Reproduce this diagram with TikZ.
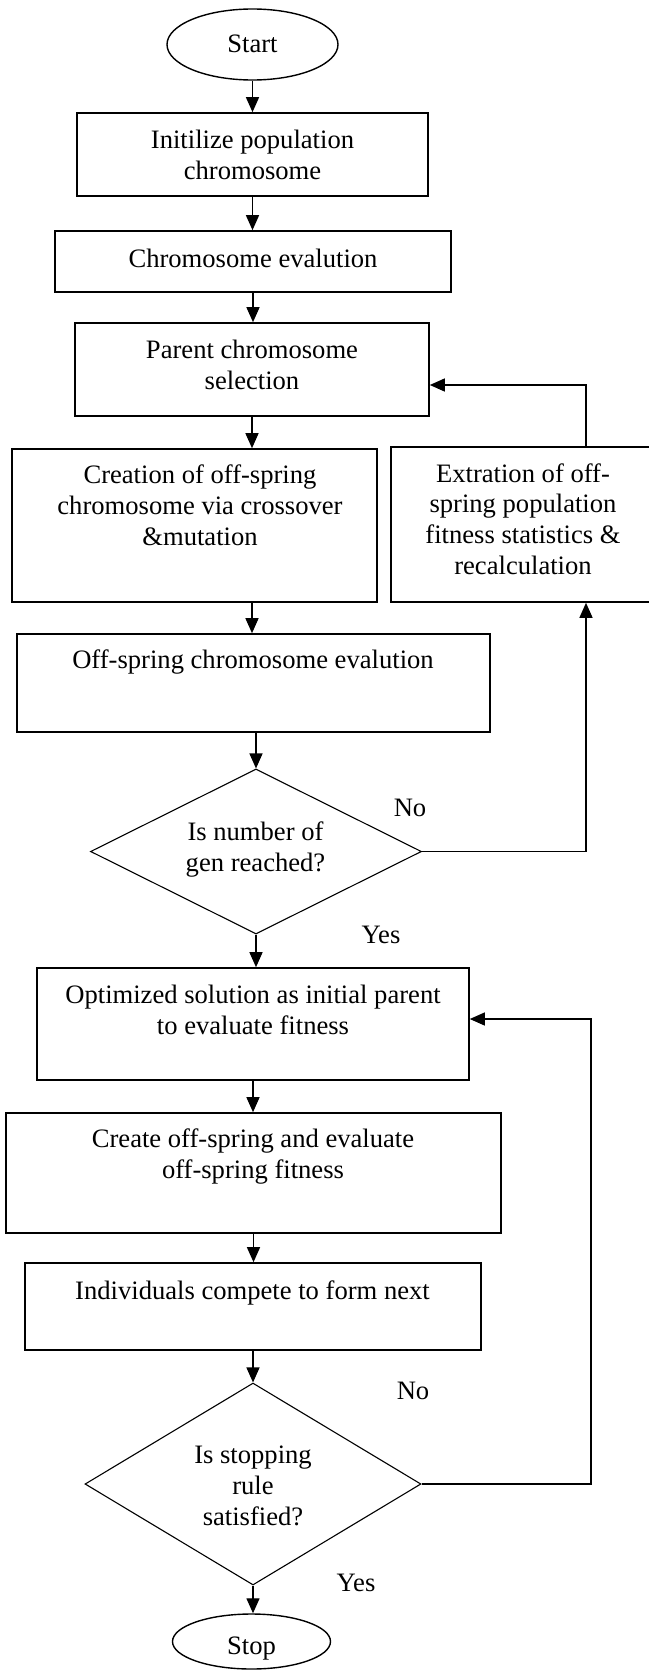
\documentclass[tikz,border=0pt]{standalone}
\usepackage{fontspec}
\setmainfont{Liberation Serif}
\usetikzlibrary{arrows.meta,shapes.geometric}
\begin{document}
\begin{tikzpicture}[x=1pt,y=-1pt,
  boxnode/.style={draw, line width=1.6pt, rectangle, inner sep=0pt},
  ovalnode/.style={draw, line width=1.4pt, ellipse, inner sep=0pt, font=\fontsize{26.6}{30.7}\selectfont},
  decnode/.style={draw, line width=1.1pt, diamond, inner sep=0pt},
  txt/.style={inner sep=0pt, align=center, font=\fontsize{26.6}{30.7}\selectfont},
  flow/.style={line width=1.3pt, -{Triangle[length=15pt,width=13pt]}},
  plain/.style={line width=1.3pt}
]
\useasboundingbox (0,0) rectangle (648,1670);

% terminals
\node[ovalnode, minimum width=171pt, minimum height=71pt, text height=15.6pt, text depth=0pt] (start) at (252.5,44.5) {Start};
\node[ovalnode, minimum width=158pt, minimum height=55pt, text height=26pt, text depth=0pt] (stop) at (251.5,1641.5) {Stop};

% boxes
\node[boxnode, minimum width=351pt, minimum height=83pt] (b1) at (252.5,154.5) {};
\node[boxnode, minimum width=396pt, minimum height=61pt] (b2) at (253,261.5) {};
\node[boxnode, minimum width=354pt, minimum height=93pt] (b3) at (252,369.5) {};
\node[boxnode, minimum width=365pt, minimum height=153pt] (b4) at (194.5,525.5) {};
\node[boxnode, minimum width=265pt, minimum height=155pt] (b5) at (523.5,524.5) {};
\node[boxnode, minimum width=473pt, minimum height=98pt] (b6) at (253.5,683) {};
\node[boxnode, minimum width=432pt, minimum height=112pt] (b7) at (253,1024) {};
\node[boxnode, minimum width=495pt, minimum height=120pt] (b8) at (253.5,1173) {};
\node[boxnode, minimum width=456pt, minimum height=87pt] (b9) at (253,1306.5) {};

% decisions
\node[decnode, minimum width=331pt, minimum height=165pt] (d1) at (256,851.5) {};
\node[decnode, minimum width=336pt, minimum height=202pt] (d2) at (253,1484) {};

% texts
\node[txt, anchor=north] (t1) at (252.5,126.65) {\strut Initilize population\\chromosome};
\node[txt, anchor=base] (t2) at (253,267) {Chromosome evalution};
\node[txt, anchor=north] (t3) at (252,336.65) {\strut Parent chromosome\\selection};
\node[txt, anchor=north] (t4) at (200,461.95) {\strut Creation of off-spring\\chromosome via crossover\\\&mutation};
\node[txt, anchor=north] (t5) at (523,460.35) {\strut Extration of off-\\spring population\\fitness statistics \&\\recalculation};
\node[txt, anchor=base] (t6) at (253,668) {Off-spring chromosome evalution};
\node[txt, anchor=north] (td1) at (255.5,818.65) {\strut Is number of\\gen reached?};
\node[txt, anchor=north] (t7) at (253,981.65) {\strut Optimized solution as initial parent\\to evaluate fitness};
\node[txt, anchor=north] (t8) at (253,1125.65) {\strut Create off-spring and evaluate\\off-spring fitness};
\node[txt, anchor=base] (t9) at (252.5,1299) {Individuals compete to form next};
\node[txt, anchor=north] (td2) at (253,1441.95) {\strut Is stopping\\rule\\satisfied?};

% branch labels
\node[txt, anchor=base] (no1) at (410,816) {No};
\node[txt, anchor=base] (yes1) at (381,943.3) {Yes};
\node[txt, anchor=base] (no2) at (413,1399.3) {No};
\node[txt, anchor=base] (yes2) at (356,1591.7) {Yes};

% main flow
\draw[flow] (start.south) -- (start.south |- b1.north);
\draw[flow] (b1.south) -- (b1.south |- b2.north);
\draw[flow] (b2.south) -- (b2.south |- b3.north);
\draw[flow] (b3.south) -- (b3.south |- b4.north);
\draw[flow] (b4.south -| b3.south) -- (b3.south |- b6.north);
\draw[flow] (d1.north |- b6.south) -- (d1.north);
\draw[flow] (d1.south) -- (d1.south |- b7.north);
\draw[flow] (b7.south) -- (b7.south |- b8.north);
\draw[flow] (b8.south) -- (b8.south |- b9.north);
\draw[flow] (d2.north |- b9.south) -- (d2.north);
\draw[flow] (d2.south) -- (d2.south |- stop.north);

% loop 1
\coordinate (c1) at (586,385);
\draw[flow] (d1.east) -| (b5.south -| c1);
\draw[flow] (b5.north -| c1) -- (c1) -- (c1 -| b3.east);

% loop 2
\coordinate (c2) at (591,1019);
\draw[flow] (d2.east) -| (c2) -- (c2 -| b7.east);
\end{tikzpicture}
\end{document}
